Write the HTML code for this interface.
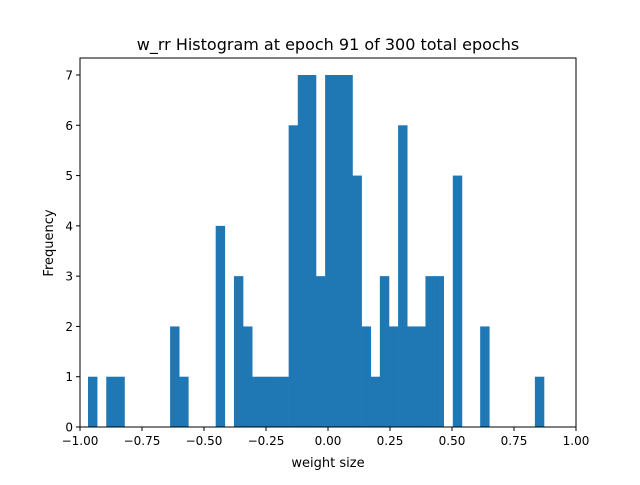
<!DOCTYPE html>
<html><head><meta charset="utf-8"><style>body{margin:0;background:#fff}svg text{font-family:"DejaVu Sans","Liberation Sans",sans-serif;fill:#000}</style></head>
<body>
<svg id="chart" width="640" height="480" viewBox="0 0 640 480">
<rect width="640" height="480" fill="#fff"/>
<text x="328" y="50" font-size="16" text-anchor="middle">w_rr Histogram at epoch 91 of 300 total epochs</text>
<g id="bars"></g>
<g id="axes"></g>
<text x="328" y="467" font-size="13" text-anchor="middle">weight size</text>
<text transform="translate(53,243) rotate(-90)" font-size="13" text-anchor="middle">Frequency</text>
</svg>
<script>
const binStart = -0.9677;
const binEnd = 0.871;
const counts = [1,0,1,1,0,0,0,0,0,2,1,0,0,0,4,0,3,2,1,1,1,1,6,7,7,3,7,7,7,5,2,1,3,2,6,2,2,3,3,0,5,0,0,2,0,0,0,0,0,1];
const xTicks = [-1,-0.75,-0.5,-0.25,0,0.25,0.5,0.75,1];
const xTickLabels = ["−1.00","−0.75","−0.50","−0.25","0.00","0.25","0.50","0.75","1.00"];
const yTicks = [0,1,2,3,4,5,6,7];

const L=80,R=576,T=58,B=427;
const xs=v=>L+(v+1)/2*(R-L);
const ys=v=>B-v*(B-75)/7;
const NS="http://www.w3.org/2000/svg";
const bars=document.getElementById('bars'), axes=document.getElementById('axes');
const w=(binEnd-binStart)/counts.length;
counts.forEach((c,i)=>{
  if(!c) return;
  const r=document.createElementNS(NS,'rect');
  const x0=xs(binStart+i*w), x1=xs(binStart+(i+1)*w);
  r.setAttribute('x',x0);r.setAttribute('width',x1-x0+0.3);
  r.setAttribute('y',ys(c));r.setAttribute('height',B-ys(c));
  r.setAttribute('fill','#1f77b4');
  
  
  bars.appendChild(r);
});
function el(tag,attrs,txt){const e=document.createElementNS(NS,tag);for(const k in attrs)e.setAttribute(k,attrs[k]);if(txt!==undefined)e.textContent=txt;axes.appendChild(e);return e;}
const frame=el('rect',{x:L,y:T,width:R-L,height:B-T,fill:'none',stroke:'#000','stroke-width':1});


xTicks.forEach((v,i)=>{
  const x=xs(v);
  const t=el('line',{x1:x,x2:x,y1:B,y2:B+4,stroke:'#000'});
  
  
  const lb=el('text',{x:x,y:B+18,'font-size':12,'text-anchor':'middle'},xTickLabels[i]);
  
  
});
yTicks.forEach(v=>{
  const y=ys(v);
  const t=el('line',{x1:L-4,x2:L,y1:y,y2:y,stroke:'#000'});
  
  
  const lb=el('text',{x:L-7,y:y+4.5,'font-size':12,'text-anchor':'end'},String(v));
  
  
});
</script>
</body></html>
